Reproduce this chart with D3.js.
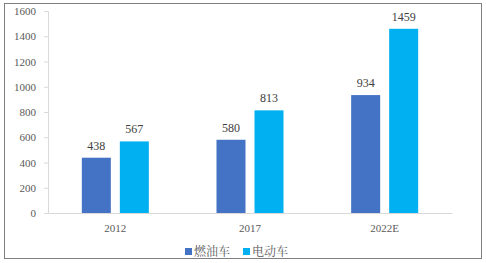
<!DOCTYPE html>
<html><head><meta charset="utf-8">
<script src="https://cdn.jsdelivr.net/npm/d3@7"></script>
<style>body{margin:0;background:#fff}svg{display:block}</style>
</head><body>
<script>
const categories = ["2012", "2017", "2022E"];
const seriesNames = ["燃油车", "电动车"];
const fuelValues = [438, 580, 934];
const evValues = [567, 813, 1459];
const yTicks = [0, 200, 400, 600, 800, 1000, 1200, 1400, 1600];
const colors = ["#4472C4", "#00B0F0"];

const W = 486, H = 263;
const serif = '"Liberation Serif","Times New Roman",serif';
const svg = d3.select("body").append("svg").attr("width", W).attr("height", H);
svg.append("rect").attr("x", 4.5).attr("y", 3.5).attr("width", 477).attr("height", 255)
  .attr("fill", "#fff").attr("stroke", "#808080").attr("stroke-width", 1);

const x0 = d3.scaleBand().domain(categories).range([48, 452]).paddingInner(0).paddingOuter(0);
const x1 = d3.scaleBand().domain(seriesNames).range([0, x0.bandwidth()]).paddingInner(0.237).paddingOuter(0.89);
const y = d3.scaleLinear().domain([0, 1600]).range([213, 11]);

const data = categories.map((c, i) => ({c, vals: [fuelValues[i], evValues[i]]}));

// y axis
const yAxis = svg.append("g").attr("transform", "translate(48,0)")
  .call(d3.axisLeft(y).tickValues(yTicks).tickSize(4).tickPadding(8).tickFormat(d3.format("d")));
yAxis.select(".domain").attr("stroke", "#d9d9d9");
yAxis.selectAll(".tick line").attr("stroke", "#d9d9d9");
yAxis.selectAll("text").style("font-family", serif).style("font-size", "11px").attr("fill", "#595959");

// x axis
const xAxis = svg.append("g").attr("transform", "translate(0,213)")
  .call(d3.axisBottom(x0).tickSize(0).tickPadding(11));
xAxis.select(".domain").attr("stroke", "#d9d9d9");
xAxis.selectAll("text").style("font-family", serif).style("font-size", "11px").attr("fill", "#595959");

const g = svg.selectAll("g.cat").data(data).enter().append("g")
  .attr("transform", d => `translate(${x0(d.c)},0)`);
g.selectAll("rect").data(d => d.vals.map((v, k) => ({v, k}))).enter().append("rect")
  .attr("x", d => x1(seriesNames[d.k])).attr("width", x1.bandwidth())
  .attr("y", d => y(d.v)).attr("height", d => y(0) - y(d.v))
  .attr("fill", d => colors[d.k]);
g.selectAll("text.lbl").data(d => d.vals.map((v, k) => ({v, k}))).enter().append("text")
  .attr("x", d => x1(seriesNames[d.k]) + x1.bandwidth() / 2).attr("y", d => y(d.v) - 8)
  .attr("text-anchor", "middle").style("font-family", serif).style("font-size", "12px")
  .attr("fill", "#404040").text(d => d.v);

// legend
const legendX = [185, 243];
const lg = svg.selectAll("g.leg").data(seriesNames).enter().append("g")
  .attr("transform", (d, i) => `translate(${legendX[i]},248)`);
lg.append("rect").attr("width", 7).attr("height", 7).attr("fill", (d, i) => colors[i]);
lg.append("text").attr("x", 9).attr("y", 8).style("font-family", '"Noto Serif CJK SC","Noto Sans CJK SC",serif')
  .style("font-size", "12px").attr("fill", "#595959").text(d => d);
</script>
</body></html>
